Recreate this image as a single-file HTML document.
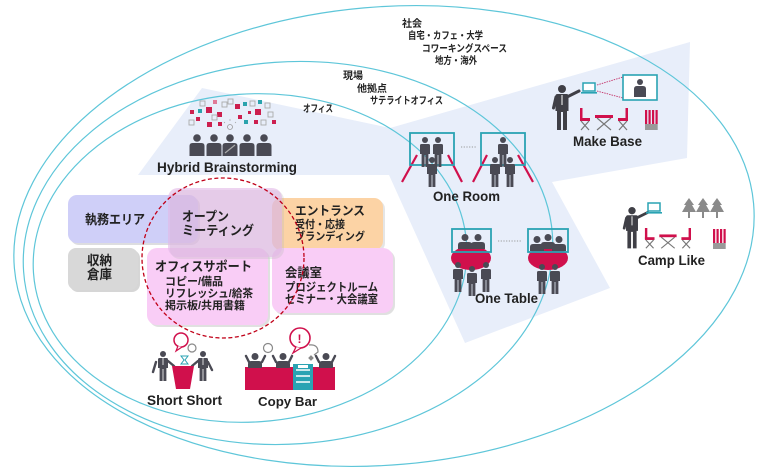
<!DOCTYPE html>
<html><head><meta charset="utf-8"><style>
html,body{margin:0;padding:0;background:#fff;width:770px;height:470px;overflow:hidden;}
svg{display:block;}
text{font-family:"Liberation Sans","Noto Sans CJK JP",sans-serif;font-weight:700;fill:#222;}
</style></head><body>
<svg width="770" height="470" viewBox="0 0 770 470" xmlns="http://www.w3.org/2000/svg">
<defs>
<g id="ps" fill="#4a4a54"><circle cx="0" cy="3" r="3"/><path d="M-5,8.5 Q-5,7 -3.5,7 H3.5 Q5,7 5,8.5 V17 H3.4 V30 H0.4 V18 H-0.4 V30 H-3.4 V17 H-5 Z"/></g>
<g id="pb" fill="#4a4a54"><circle cx="0" cy="3.5" r="3.5"/><path d="M-7,15 V11 Q-7,8 -4,8 H4 Q7,8 7,11 V15 Z"/></g>
<g id="ph" fill="#4a4a54"><circle cx="0" cy="4" r="3.8"/><path d="M-7.5,22 V12 Q-7.5,9 -4.5,9 H4.5 Q7.5,9 7.5,12 V22 Z"/></g>
<g id="pr" fill="#3f3f46"><circle cx="0" cy="4" r="4"/><path d="M-6.5,11 Q-6.5,9 -4.5,9 H4.5 Q6.5,9 6.5,11 V26 H5 V45 H1 V27 H-1 V45 H-5 V26 H-6.5 Z"/><path d="M5,12 L17,6" stroke="#3f3f46" stroke-width="3" stroke-linecap="round"/><path d="M-6,12 L-8.5,23" stroke="#3f3f46" stroke-width="3" stroke-linecap="round"/><path d="M0,10 V20" stroke="#fff" stroke-width="1"/></g>
<g id="cs"><rect x="2" y="0" width="2.5" height="12" fill="#d0104c"/><rect x="2" y="10" width="10" height="3" fill="#d0104c"/><path d="M3,13 L11,22 M11,13 L3,22 M19,10 L33,22 M33,10 L19,22 M41,13 L49,22 M49,13 L41,22" stroke="#777" stroke-width="1.2"/><rect x="17" y="7" width="18" height="3" fill="#d0104c"/><rect x="47.5" y="0" width="2.5" height="12" fill="#d0104c"/><rect x="40" y="10" width="10" height="3" fill="#d0104c"/></g>
<g id="rb"><rect x="0" y="0" width="2.2" height="14" fill="#d0104c"/><rect x="3.5" y="0" width="2.2" height="14" fill="#d0104c"/><rect x="7" y="0" width="2.2" height="14" fill="#d0104c"/><rect x="10.5" y="0" width="2.2" height="14" fill="#d0104c"/><rect x="0" y="14" width="12.7" height="6" fill="#999"/></g>
<g id="lp"><rect x="0" y="0" width="12" height="8" fill="#fff" stroke="#2aa3b3" stroke-width="1.5"/><rect x="-2" y="9" width="16" height="1.6" fill="#2aa3b3"/></g>
<g id="tr" fill="#8a8a8a"><polygon points="0,0 5,7 3,7 7,14 -7,14 -3,7 -5,7"/><rect x="-1" y="14" width="2" height="6"/></g>
</defs>
<rect width="770" height="470" fill="#fff"/>
<polygon points="202,88 390,128 690,42 687,158 552,182 610,288 465,343 389,175 138,175" fill="#e8eefa"/>
<g fill="none" stroke="#5ec6d9" stroke-width="1.2">
<path d="M14.4,268.3 A371,229 -5 1,1 753.6,203.7 A371,229 -5 1,1 14.4,268.3 Z"/>
<path d="M23.6,271.5 A265,191 -4 1,1 552.4,234.5 A265,191 -4 1,1 23.6,271.5 Z"/>
<path d="M33.5,273.1 A217,164 -4 1,1 466.5,242.9 A217,164 -4 1,1 33.5,273.1 Z"/>
</g>

<!-- top labels -->
<g font-size="10">
<text x="402" y="27" textLength="20" lengthAdjust="spacingAndGlyphs">社会</text>
<text x="408" y="39" textLength="75" lengthAdjust="spacingAndGlyphs">自宅・カフェ・大学</text>
<text x="422" y="52" textLength="85" lengthAdjust="spacingAndGlyphs">コワーキングスペース</text>
<text x="435" y="64" textLength="42" lengthAdjust="spacingAndGlyphs">地方・海外</text>
<text x="343" y="79" textLength="20" lengthAdjust="spacingAndGlyphs">現場</text>
<text x="357" y="92" textLength="30" lengthAdjust="spacingAndGlyphs">他拠点</text>
<text x="370" y="104" textLength="73" lengthAdjust="spacingAndGlyphs">サテライトオフィス</text>
<text x="303" y="112" textLength="30" lengthAdjust="spacingAndGlyphs">オフィス</text>
</g>

<!-- Hybrid brainstorming -->
<g>
<rect x="190" y="110" width="4" height="4" fill="#cc1f4f"/>
<rect x="198" y="109" width="4" height="4" fill="#2aa3ad"/>
<rect x="206" y="107" width="6" height="6" fill="#cc1f4f"/>
<rect x="200" y="101" width="5" height="5" fill="none" stroke="#aaa" stroke-width="0.9"/>
<rect x="213" y="100" width="4" height="4" fill="#e07a98"/>
<rect x="217" y="112" width="5" height="5" fill="#cc1f4f"/>
<rect x="222" y="102" width="5" height="5" fill="none" stroke="#aaa" stroke-width="0.9"/>
<rect x="228" y="99" width="5" height="5" fill="none" stroke="#aaa" stroke-width="0.9"/>
<rect x="235" y="104" width="5" height="5" fill="#cc1f4f"/>
<rect x="243" y="102" width="4" height="4" fill="#2aa3ad"/>
<rect x="250" y="101" width="5" height="5" fill="none" stroke="#aaa" stroke-width="0.9"/>
<rect x="258" y="100" width="4" height="4" fill="#2aa3ad"/>
<rect x="265" y="103" width="5" height="5" fill="none" stroke="#aaa" stroke-width="0.9"/>
<rect x="255" y="109" width="6" height="6" fill="#cc1f4f"/>
<rect x="248" y="111" width="3" height="3" fill="#cc1f4f"/>
<rect x="268" y="112" width="5" height="5" fill="none" stroke="#aaa" stroke-width="0.9"/>
<rect x="244" y="120" width="4" height="4" fill="#2aa3ad"/>
<rect x="254" y="120" width="4" height="4" fill="#cc1f4f"/>
<rect x="261" y="120" width="5" height="5" fill="none" stroke="#aaa" stroke-width="0.9"/>
<rect x="272" y="120" width="4" height="4" fill="#cc1f4f"/>
<rect x="189" y="120" width="5" height="5" fill="none" stroke="#aaa" stroke-width="0.9"/>
<rect x="196" y="117" width="4" height="4" fill="#cc1f4f"/>
<rect x="207" y="122" width="5" height="5" fill="#cc1f4f"/>
<rect x="218" y="122" width="4" height="4" fill="#cc1f4f"/>
<rect x="212" y="115" width="5" height="5" fill="none" stroke="#aaa" stroke-width="0.9"/>
<rect x="238" y="115" width="4" height="4" fill="#cc1f4f"/>
<circle cx="230" cy="127" r="2.5" fill="none" stroke="#999" stroke-width="0.8"/>
<path d="M230,121 V119 M225,123 L224,122 M235,123 L236,122" stroke="#999" stroke-width="0.6"/>
<use href="#ph" x="197" y="134"/><use href="#ph" x="214" y="134"/><use href="#ph" x="230" y="134"/><use href="#ph" x="247" y="134"/><use href="#ph" x="264" y="134"/>
<path d="M225,153 L235,145" stroke="#aaa" stroke-width="1.2"/>
</g>
<text x="157" y="172" font-size="14" textLength="140" lengthAdjust="spacingAndGlyphs">Hybrid Brainstorming</text>

<!-- One Room -->
<g>
<path d="M417,155 L402,182 M448,155 L462,182 M487,155 L473,182 M518,155 L533,182" stroke="#d0104c" stroke-width="2.2"/>
<rect x="410" y="133" width="44" height="32" fill="none" stroke="#2aa3b3" stroke-width="1.8"/>
<rect x="481" y="133" width="44" height="32" fill="none" stroke="#2aa3b3" stroke-width="1.8"/>
<use href="#ps" x="425" y="137"/>
<use href="#ps" x="438" y="137"/>
<use href="#ps" x="432" y="157"/>
<use href="#ps" x="503" y="137"/>
<use href="#ps" x="495" y="157"/>
<use href="#ps" x="510" y="157"/>
<path d="M461,147 H476" stroke="#999" stroke-width="1" stroke-dasharray="1.2 1.5"/>
</g>
<text x="433" y="201" font-size="14" textLength="67" lengthAdjust="spacingAndGlyphs">One Room</text>

<!-- One Table -->
<g>
<ellipse cx="471" cy="258" rx="20" ry="12" fill="#d0104c"/>
<ellipse cx="548" cy="258" rx="20" ry="12" fill="#d0104c"/>
<use href="#pb" x="465" y="234"/>
<use href="#pb" x="478" y="234"/>
<use href="#pb" x="537" y="236"/>
<use href="#pb" x="548" y="234"/>
<use href="#pb" x="559" y="236"/>
<rect x="452" y="229" width="39" height="23" fill="none" stroke="#2aa3b3" stroke-width="1.8"/>
<rect x="528" y="229" width="40" height="23" fill="none" stroke="#2aa3b3" stroke-width="1.8"/>
<use href="#ps" x="458" y="262"/>
<use href="#ps" x="472" y="266"/>
<use href="#ps" x="486" y="262"/>
<use href="#ps" x="542" y="264"/>
<use href="#ps" x="555" y="264"/>
<path d="M498,241 H522" stroke="#999" stroke-width="1" stroke-dasharray="1.2 1.5"/>
</g>
<text x="475" y="303" font-size="14" textLength="63" lengthAdjust="spacingAndGlyphs">One Table</text>

<!-- Make Base -->
<g>
<use href="#pr" x="562" y="85"/>
<use href="#lp" x="583" y="83"/>
<path d="M597,85 L623,77 M597,91 L623,98" stroke="#c4346a" stroke-width="0.9" stroke-dasharray="1.5 1"/>
<rect x="623" y="75" width="34" height="25" fill="#fff" stroke="#2aa3b3" stroke-width="1.6"/>
<circle cx="640" cy="82" r="3" fill="#4a4a54"/>
<path d="M634,97 V89 Q634,86 637,86 H643 Q646,86 646,89 V97 Z" fill="#4a4a54"/>
<use href="#cs" x="578" y="108"/>
<use href="#rb" x="645" y="110"/>
</g>
<text x="573" y="146" font-size="14" textLength="69" lengthAdjust="spacingAndGlyphs">Make Base</text>

<!-- Camp Like -->
<g>
<g transform="translate(632,207) scale(0.92)"><use href="#pr" x="0" y="0"/></g>
<use href="#lp" x="648" y="203"/>
<use href="#tr" x="689" y="198"/><use href="#tr" x="703" y="198"/><use href="#tr" x="717" y="198"/>
<g transform="translate(643,228) scale(0.96,0.92)"><use href="#cs" x="0" y="0"/></g>
<use href="#rb" x="713" y="229"/>
</g>
<text x="638" y="265" font-size="14" textLength="67" lengthAdjust="spacingAndGlyphs">Camp Like</text>

<!-- boxes -->
<g>
<rect x="70" y="197" width="130" height="48" rx="9" fill="#c6c6cc" opacity="0.6"/>
<rect x="68" y="195" width="130" height="48" rx="9" fill="#cfcff8"/>
<rect x="70" y="250" width="70" height="42" rx="8" fill="#bbb" opacity="0.6"/>
<rect x="68" y="248" width="70" height="42" rx="8" fill="#d8d8d8"/>
<rect x="274" y="200" width="111" height="52" rx="9" fill="#ccc" opacity="0.5"/>
<rect x="272" y="198" width="111" height="52" rx="9" fill="#fcd3a5"/>
<rect x="274" y="250" width="121" height="65" rx="10" fill="#ccc" opacity="0.6"/>
<rect x="272" y="248" width="121" height="65" rx="10" fill="#f9cdf6"/>
<rect x="149" y="250" width="121" height="77" rx="10" fill="#ccc" opacity="0.6"/>
<rect x="147" y="248" width="121" height="77" rx="10" fill="#f9cdf6"/>
<rect x="170" y="190" width="114" height="69" rx="10" fill="#bbb" opacity="0.3"/>
<rect x="168" y="188" width="114" height="69" rx="10" fill="#e2b8e6" opacity="0.62"/>
</g>
<g fill="#2a2a2a">
<text x="85" y="224" font-size="13" textLength="60" lengthAdjust="spacingAndGlyphs">執務エリア</text>
<text x="182" y="221" font-size="13" textLength="47" lengthAdjust="spacingAndGlyphs">オープン</text>
<text x="182" y="235" font-size="13" textLength="72" lengthAdjust="spacingAndGlyphs">ミーティング</text>
<text x="295" y="215" font-size="12.5" textLength="70" lengthAdjust="spacingAndGlyphs">エントランス</text>
<text x="295" y="228" font-size="11" textLength="50" lengthAdjust="spacingAndGlyphs">受付・応接</text>
<text x="295" y="240" font-size="11" textLength="70" lengthAdjust="spacingAndGlyphs">ブランディング</text>
<text x="87" y="265" font-size="13" textLength="25" lengthAdjust="spacingAndGlyphs">収納</text>
<text x="87" y="279" font-size="13" textLength="25" lengthAdjust="spacingAndGlyphs">倉庫</text>
<text x="155" y="271" font-size="13" textLength="97" lengthAdjust="spacingAndGlyphs">オフィスサポート</text>
<text x="165" y="285" font-size="11" textLength="58" lengthAdjust="spacingAndGlyphs">コピー/備品</text>
<text x="165" y="297" font-size="11" textLength="88" lengthAdjust="spacingAndGlyphs">リフレッシュ/給茶</text>
<text x="165" y="309" font-size="11" textLength="80" lengthAdjust="spacingAndGlyphs">掲示板/共用書籍</text>
<text x="285" y="277" font-size="12.5" textLength="37" lengthAdjust="spacingAndGlyphs">会議室</text>
<text x="285" y="291" font-size="11.5" textLength="93" lengthAdjust="spacingAndGlyphs">プロジェクトルーム</text>
<text x="285" y="303" font-size="11.5" textLength="93" lengthAdjust="spacingAndGlyphs">セミナー・大会議室</text>
</g>
<ellipse cx="223" cy="258" rx="81" ry="80" fill="none" stroke="#c00018" stroke-width="1.3" stroke-dasharray="4 2.5"/>

<!-- Short Short -->
<g>
<use href="#ps" x="163" y="351"/>
<path d="M156,362 L153,372 M168,361 L174,366" stroke="#4a4a54" stroke-width="2.4" stroke-linecap="round"/>
<use href="#ps" x="203" y="351"/>
<path d="M198,361 L192,366 M208,362 L212,370" stroke="#4a4a54" stroke-width="2.4" stroke-linecap="round"/>
<path d="M163,358 V365 M203,358 V365" stroke="#fff" stroke-width="0.8"/>
<polygon points="172,366 194,366 190,389 176,389" fill="#d0104c"/>
<path d="M181,356 H188 L185,360 L188,364 H181 L184,360 Z" fill="none" stroke="#2aa3b3" stroke-width="1"/>
<circle cx="181" cy="340" r="7" fill="#fff" stroke="#d0104c" stroke-width="1.5"/>
<path d="M178,346 L176,351 L182,347" fill="#fff" stroke="#d0104c" stroke-width="1.2"/>
<circle cx="192" cy="348" r="4" fill="none" stroke="#888" stroke-width="1.2"/>
</g>
<text x="147" y="405" font-size="14" textLength="75" lengthAdjust="spacingAndGlyphs">Short Short</text>

<!-- Copy Bar -->
<g>
<rect x="245" y="367" width="90" height="23" fill="#d0104c"/>
<use href="#pb" x="255" y="353"/>
<use href="#pb" x="283" y="353"/>
<use href="#pb" x="326" y="353"/>
<path d="M246,356 L249,362 M265,356 L262,362 M273,356 L276,362 M292,356 L289,362 M316,356 L319,362 M335,356 L332,362" stroke="#4a4a54" stroke-width="2.4" stroke-linecap="round"/>
<rect x="293" y="364" width="20" height="26" fill="#2aa3b3"/>
<path d="M296,370 H310 M296,376 H310 M296,382 H310" stroke="#fff" stroke-width="1.5"/>
<rect x="298" y="365" width="10" height="3" fill="#fff"/>
<circle cx="300" cy="338" r="10" fill="#fff" stroke="#d0104c" stroke-width="1.6"/>
<path d="M296,347 L293,353 L301,348" fill="#fff" stroke="#d0104c" stroke-width="1.3"/>
<text x="297.5" y="343" font-size="12" style="fill:#d0104c">!</text>
<circle cx="268" cy="348" r="4.5" fill="none" stroke="#888" stroke-width="1.2"/>
<path d="M309,345 Q318,344 318,352 L314,355" fill="none" stroke="#888" stroke-width="1.2"/>
<rect x="309" y="356" width="4" height="4" fill="#888" transform="rotate(45 311 358)"/>
</g>
<text x="258" y="406" font-size="13" textLength="59" lengthAdjust="spacingAndGlyphs">Copy Bar</text>
</svg>
</body></html>
